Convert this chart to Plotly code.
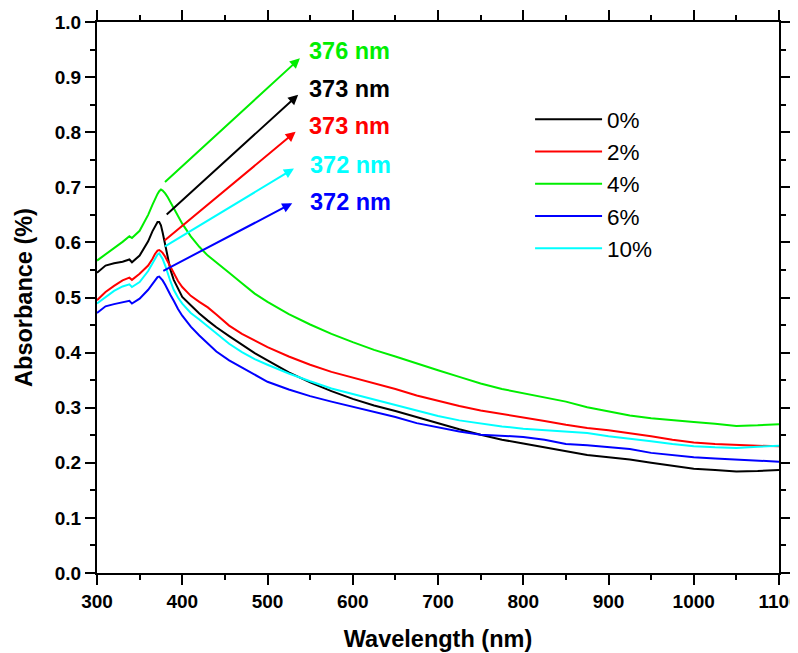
import plotly.graph_objects as go

wavelength = [300, 310, 320, 330, 338, 341, 350, 360, 365, 368, 371, 373, 375, 377,
              380, 383, 386, 390, 395, 400, 410, 420, 430, 440, 455, 470, 485, 500,
              525, 550, 575, 600, 625, 650, 675, 700, 725, 750, 775, 800, 825, 850,
              875, 900, 925, 950, 975, 1000, 1025, 1050, 1075, 1100]

abs_0 = [0.545, 0.558, 0.562, 0.565, 0.569, 0.564, 0.576, 0.602, 0.620, 0.630, 0.637, 0.637, 0.631, 0.618,
         0.594, 0.570, 0.551, 0.532, 0.515, 0.501, 0.486, 0.471, 0.458, 0.446, 0.430, 0.414, 0.399, 0.386,
         0.364, 0.346, 0.330, 0.316, 0.304, 0.294, 0.283, 0.271, 0.261, 0.251, 0.242, 0.235, 0.228, 0.220,
         0.214, 0.210, 0.206, 0.200, 0.194, 0.189, 0.187, 0.184, 0.185, 0.187]

abs_2 = [0.495, 0.510, 0.521, 0.531, 0.536, 0.532, 0.543, 0.558, 0.570, 0.579, 0.585, 0.586, 0.584, 0.581,
         0.574, 0.565, 0.556, 0.545, 0.530, 0.519, 0.503, 0.492, 0.482, 0.469, 0.449, 0.434, 0.422, 0.410,
         0.393, 0.378, 0.365, 0.355, 0.344, 0.334, 0.322, 0.312, 0.303, 0.295, 0.289, 0.282, 0.276, 0.269,
         0.263, 0.259, 0.254, 0.248, 0.242, 0.237, 0.234, 0.232, 0.231, 0.230]

abs_4 = [0.567, 0.578, 0.590, 0.601, 0.611, 0.608, 0.621, 0.650, 0.668, 0.679, 0.688, 0.693, 0.696, 0.694,
         0.689, 0.682, 0.674, 0.663, 0.649, 0.634, 0.611, 0.592, 0.576, 0.563, 0.545, 0.526, 0.507, 0.492,
         0.470, 0.451, 0.434, 0.419, 0.405, 0.393, 0.380, 0.368, 0.356, 0.344, 0.334, 0.326, 0.319, 0.311,
         0.301, 0.293, 0.286, 0.281, 0.277, 0.274, 0.271, 0.267, 0.268, 0.270]

abs_6 = [0.472, 0.484, 0.488, 0.491, 0.494, 0.489, 0.498, 0.514, 0.525, 0.532, 0.537, 0.538, 0.535, 0.531,
         0.523, 0.513, 0.505, 0.494, 0.479, 0.467, 0.447, 0.431, 0.416, 0.402, 0.386, 0.373, 0.360, 0.347,
         0.333, 0.321, 0.311, 0.302, 0.293, 0.283, 0.272, 0.264, 0.257, 0.251, 0.249, 0.247, 0.242, 0.234,
         0.232, 0.229, 0.225, 0.218, 0.214, 0.210, 0.208, 0.206, 0.204, 0.202]

abs_10 = [0.489, 0.501, 0.512, 0.520, 0.524, 0.519, 0.528, 0.548, 0.562, 0.571, 0.578, 0.580, 0.576, 0.570,
          0.558, 0.543, 0.530, 0.514, 0.500, 0.489, 0.472, 0.460, 0.447, 0.434, 0.416, 0.401, 0.388, 0.378,
          0.362, 0.348, 0.335, 0.325, 0.315, 0.305, 0.294, 0.285, 0.277, 0.271, 0.266, 0.262, 0.259, 0.256,
          0.254, 0.248, 0.244, 0.239, 0.234, 0.230, 0.228, 0.227, 0.229, 0.231]

series_names = ["0%", "2%", "4%", "6%", "10%"]
series_values = [abs_0, abs_2, abs_4, abs_6, abs_10]
series_colors = ["#000000", "#ff0000", "#00ee00", "#0000ff", "#00ffff"]

# peak annotations: label, tail (x,y), head (x,y), label position
peak_labels = ["376 nm", "373 nm", "373 nm", "372 nm", "372 nm"]
peak_colors = ["#00ee00", "#000000", "#ff0000", "#00ffff", "#0000ff"]
arrow_tail_x = [378, 380, 377.5, 378, 376]
arrow_tail_y = [0.707, 0.648, 0.601, 0.591, 0.547]
arrow_head_x = [538, 536, 533, 531, 529]
arrow_head_y = [0.934, 0.868, 0.801, 0.734, 0.671]
label_x = [546, 546, 546, 548, 548]
label_y = [0.947, 0.879, 0.811, 0.741, 0.674]

FONT = "Arial, 'Liberation Sans', Helvetica, sans-serif"

fig = go.Figure()
for name, vals, col in zip(series_names, series_values, series_colors):
    fig.add_trace(go.Scatter(x=wavelength, y=vals, mode="lines", name=name,
                             line=dict(color=col, width=2)))

for i in range(len(peak_labels)):
    fig.add_annotation(x=arrow_head_x[i], y=arrow_head_y[i], ax=arrow_tail_x[i], ay=arrow_tail_y[i],
                       xref="x", yref="y", axref="x", ayref="y", text="", showarrow=True,
                       arrowhead=2, arrowsize=1.0, arrowwidth=2, arrowcolor=peak_colors[i], standoff=0)
    fig.add_annotation(x=label_x[i], y=label_y[i], xref="x", yref="y", text=peak_labels[i],
                       showarrow=False, xanchor="left", yanchor="middle",
                       font=dict(family=FONT, size=23.5, color=peak_colors[i], weight="bold"))

axis_common = dict(showline=True, linecolor="black", linewidth=2, mirror="allticks",
                   ticks="outside", ticklen=10, tickwidth=2, tickcolor="black",
                   showgrid=False, zeroline=False, automargin=False, ticklabeloverflow="allow",
                   tickfont=dict(family=FONT, size=19, color="black", weight="bold"))

fig.update_xaxes(range=[300, 1100], dtick=100, tick0=300,
                 minor=dict(dtick=50, ticklen=5, tickwidth=2, tickcolor="black", ticks="outside"),
                 title=dict(text="Wavelength (nm)", standoff=20,
                            font=dict(family=FONT, size=23.5, color="black", weight="bold")),
                 **axis_common)
fig.update_yaxes(range=[0, 1.0], dtick=0.1, tick0=0, tickformat=".1f",
                 minor=dict(dtick=0.05, ticklen=5, tickwidth=2, tickcolor="black", ticks="outside"),
                 title=dict(text="Absorbance (%)", standoff=16,
                            font=dict(family=FONT, size=23.5, color="black", weight="bold")),
                 **axis_common)

# page body has an 8px margin, so the figure is offset by 8px
fig.update_layout(
    width=790, height=645,
    margin=dict(l=89, r=19, t=14, b=80),
    plot_bgcolor="white", paper_bgcolor="white",
    showlegend=True,
    legend=dict(x=0.635, y=0.862, xanchor="left", yanchor="top", itemwidth=67,
                bgcolor="rgba(0,0,0,0)", borderwidth=0,
                font=dict(family=FONT, size=22.5, color="black")),
)

fig.write_html("out.html")
